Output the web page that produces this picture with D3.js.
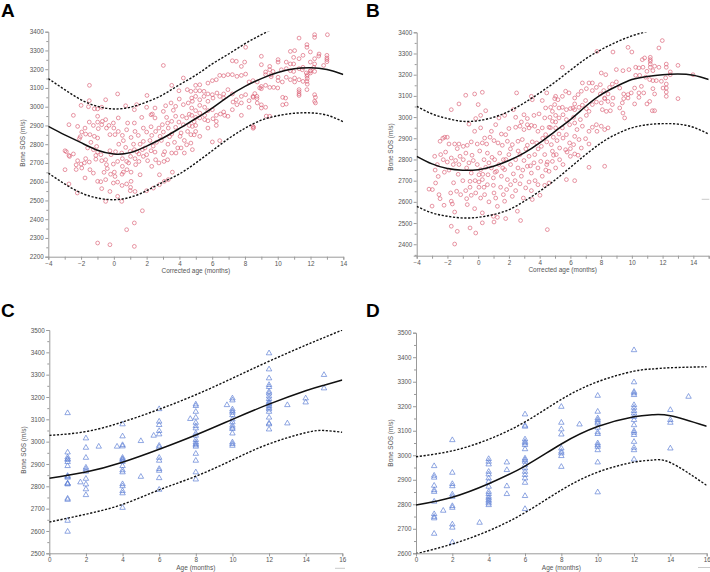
<!DOCTYPE html>
<html><head><meta charset="utf-8">
<script src="https://cdn.jsdelivr.net/npm/d3@7"></script>
<style>body{margin:0;background:#fff}svg{display:block}text{font-family:"Liberation Sans",Arial,sans-serif}</style>
</head><body><svg id="c" width="710" height="572"></svg>
<script>
// ---------- Panel A data (corrected age, bone SOS) ----------
const pointsA = [
[3.02,3220],[-1.49,3114],[4.24,3153],[3.53,3114],[3.97,3085],[4.48,3091],[4.7,3082],[4.75,3046],[3.99,3041],[0.23,3068],[-0.5,3037],[-1.5,3032],[2.02,3060],[-2.0,3007],[-1.55,3000],[-1.19,2989],[-0.99,2988],[-0.74,2997],[0.72,3005],[1.25,2984],[1.39,3011],[2.0,2997],[2.35,2961],[2.51,2993],[3.02,2975],[3.16,3005],[3.49,3020],[3.63,2981],[3.77,3002],[4.24,3011],[4.54,3020],[4.79,3029],[4.75,2993],
[-2.74,2904],[-2.47,2954],[-2.21,2895],[-1.96,2865],[-1.76,2886],[-1.72,2854],[-1.5,2918],[-1.46,2851],[-1.25,2900],[-1.19,2842],[-0.99,2949],[-0.99,2918],[-0.95,2883],[-0.99,2833],[-0.74,2904],[-0.7,2922],[-0.5,2931],[-0.45,2886],[-0.3,2900],[-0.24,2851],[-0.03,2913],[0.0,2886],[0.07,2851],[0.27,2940],[0.27,2868],[0.52,2847],[0.58,2819],[0.78,2877],[0.84,2913],[1.05,2836],[1.25,2913],[1.29,2868],[1.49,2847],[1.7,2943],[1.8,2886],[1.8,2815],[2.0,2865],[2.27,2957],[2.27,2893],[2.31,2847],[2.51,2940],[2.55,2868],[2.75,2886],[2.82,2842],[2.96,2904],[3.02,2865],[3.22,2943],[3.28,2913],[3.32,2886],[3.53,2922],[3.53,2854],[3.77,2949],[3.77,2890],[3.97,2918],[4.04,2842],[4.18,2949],[4.24,2904],[4.44,2940],[4.5,2868],[4.75,2954],[4.79,2895],[4.7,2851],
[-2.98,2765],[-2.74,2740],[-2.47,2748],[-2.98,2664],[-2.21,2712],[-2.0,2694],[-1.96,2673],[-1.72,2723],[-1.76,2620],[-1.5,2705],[-1.46,2664],[-1.25,2646],[-1.25,2771],[-1.05,2788],[-0.99,2758],[-0.79,2744],[-0.74,2712],[-0.5,2717],[-0.45,2691],[-0.5,2611],[-0.24,2765],[-0.17,2744],[-0.03,2694],[0.03,2651],[0.07,2628],[0.23,2708],[0.23,2598],[0.48,2753],[0.52,2723],[0.52,2682],[0.58,2651],[0.72,2783],[0.78,2708],[0.8,2664],[1.0,2762],[1.02,2735],[1.05,2651],[1.05,2602],[1.25,2771],[1.29,2723],[1.33,2691],[1.53,2748],[1.53,2708],[1.6,2637],[1.74,2771],[1.8,2735],[2.0,2744],[2.06,2712],[2.27,2765],[2.31,2682],[2.51,2758],[2.55,2717],[2.75,2700],[2.78,2637],[3.02,2744],[3.06,2708],[3.28,2717],[3.32,2611],[3.53,2753],[3.57,2651],[3.79,2753],[4.1,2780],[4.3,2753],[4.44,2797],[4.7,2806],[4.79,2771],
[-2.74,2588],[-2.23,2540],[-0.99,2602],[-0.74,2563],[-0.5,2495],[-0.24,2548],[-0.03,2593],[0.23,2522],[0.48,2495],[0.78,2588],[1.0,2552],[1.02,2570],[1.29,2548],[2.0,2552],[2.41,2566],[2.78,2584],[3.08,2602],
[1.74,2445],[1.25,2380],[0.78,2344],[-0.99,2273],[-0.24,2264],[1.25,2255],
[-2.9,2760],[-2.7,2735],[-2.3,2690],[-2.3,2665],[-2.1,2830],[-2.05,2840],[-1.8,2700],[-1.6,2780],[-1.4,2810],[-1.1,2740],[-1.1,2720],[-0.8,2600],[-0.6,2650],[-0.4,2670],[-0.2,2640],[0.1,2760],[0.3,2800],[0.5,2640],[0.5,2580],[0.9,2700],[1.2,2800],[1.4,2760],[1.6,2800],[1.9,2780],[2.2,2820],[2.4,2790],[2.6,2810],[2.9,2820],[3.1,2760],[3.3,2800],[3.4,2840],[3.7,2810],[3.9,2780],[4.1,2860],[4.3,2820],[4.6,2900],[4.9,2920],[4.6,2960],[4.9,2850],
[12.25,3384],[12.25,3370],[13.03,3384],[11.3,3366],[11.78,3331],[11.78,3317],[10.77,3295],[11.03,3299],[11.99,3292],[12.52,3281],[13.0,3274],[13.0,3251],[10.97,3263],[11.3,3256],[11.54,3274],[11.99,3238],[12.25,3256],[12.25,3228],[9.0,3269],[8.04,3317],[10.02,3251],[10.02,3238],[10.52,3238],[10.77,3228],[10.97,3228],
[7.23,3245],[7.47,3242],[7.98,3238],[7.78,3215],[9.0,3224],[9.51,3215],[9.26,3185],[9.26,3171],[9.51,3197],[9.71,3188],[10.22,3197],[10.52,3203],[10.77,3192],[10.97,3188],[11.3,3203],[11.54,3210],[11.5,3197],[11.74,3180],[11.78,3162],[11.99,3192],[12.25,3188],[11.78,3135],[11.54,3135],[11.3,3144],[11.03,3153],[11.03,3132],[10.77,3144],[10.52,3157],[10.28,3132],[10.02,3157],[10.02,3139],[9.75,3103],[9.51,3103],[9.26,3114],[9.0,3108],[9.0,3096],[8.75,3132],[8.49,3139],[8.25,3132],[8.04,3174],[7.78,3167],[7.51,3162],[7.23,3171],[6.96,3171],[6.7,3165],[6.46,3167],[6.25,3144],[6.01,3139],[5.74,3126],[5.24,3117],[4.99,3114],
[4.99,3085],[5.24,3085],[5.5,3082],[5.74,3068],[6.01,3064],[6.05,3046],[6.29,3073],[6.46,3055],[6.7,3068],[6.7,3046],[6.96,3091],[7.23,3068],[7.27,3025],[7.47,3037],[7.51,3011],[7.78,3055],[7.78,3020],[8.04,3064],[8.25,3032],[8.49,3055],[8.73,3055],[8.73,3043],[8.75,3020],[8.25,2997],[9.0,2993],[9.26,2997],[9.51,2949],[10.48,3046],[10.52,3014],[12.25,3064],[12.25,3029],[11.3,3091],[11.3,3068],[11.78,3091],
[4.99,3055],[5.24,3037],[5.5,3055],[5.24,3007],[5.54,2997],[5.74,3029],[5.74,2979],[6.01,2984],[6.25,2954],[6.05,2936],[6.25,2922],[6.25,2900],[5.74,2925],[5.54,2954],[5.54,2931],[5.24,2966],[5.24,2940],[4.99,2979],[4.99,2943],[4.99,2900],[4.99,2868],[5.24,2842],[5.74,2886],[6.01,2812],[6.46,2819],[6.5,2961],[6.76,2954],[6.96,2949],[7.23,2984],[7.78,2954],[8.53,2890],[8.49,2895],[6.7,2972],
[11.3,3060],[11.3,3080],[12.3,3050],[12.3,3020],[10.3,3050],[10.3,3010],[12.5,3270],[12.0,3190],[12.0,3180],[11.8,3170],[11.8,3150],[11.8,3120],[13.0,3240],[13.0,3260],[12.8,3220],[12.2,3210],[9.3,2950],[9.0,3010],[8.5,2885],[8.5,3050],[8.6,3070],[8.9,3100],[9.6,3160],[9.6,3170],[10.0,3100]
];
const curveXA = [-4,-3,-2,-1,0,1,2,3,4,5,6,7,8,9,10,11,12,13,14];
const meanA  = [2895,2850,2808,2768,2748,2755,2790,2833,2884,2937,2993,3055,3108,3150,3182,3202,3208,3198,3172];
const upperA = [3150,3091,3037,3002,2988,2997,3025,3064,3117,3168,3228,3281,3336,3384,3425,3460,3490,3510,3520];
const lowerA = [2646,2588,2540,2513,2504,2517,2552,2598,2641,2700,2765,2830,2885,2928,2952,2965,2967,2955,2920];

// ---------- Panel B data ----------
const pointsB = [
[-0.23,3109],[0.27,3117],[-0.81,3103],[-1.25,3062],[-1.75,3035],[0.0,3059],[0.49,3030],[2.5,3114],[1.72,3008],[2.29,3035],[2.98,3011],[3.46,3098],[3.52,3082],[4.17,3078],[4.39,3043],[4.72,3046],[4.98,3087],[4.46,3114],[4.83,3027],[-0.6,2967],[-0.16,2993],[0.16,3008],[-0.23,2933],[0.16,2949],[1.51,2920],[1.79,2917],[2.0,2946],[2.44,2952],[2.72,2957],[2.98,2941],[3.2,2964],[3.31,2949],[3.46,2961],[3.68,2957],[3.89,2933],[4.17,2949],[4.39,2917],[4.61,2952],[4.89,2905],[4.83,2980],[4.67,2999],[4.33,2996],[3.96,3015],[3.63,3008],[3.2,2993],[2.81,2977],[2.44,2999],[1.35,2996],[1.14,2964],[0.86,2933],[0.77,2905],[0.42,2901],
[-2.48,2886],[-2.18,2905],[-2.01,2905],[-1.9,2873],[-1.53,2873],[-1.25,2873],[-0.97,2862],[-1.36,2851],[-0.71,2867],[-0.45,2883],[-0.06,2873],[0.27,2878],[0.55,2873],[1.03,2889],[1.29,2878],[1.57,2867],[1.9,2886],[2.22,2870],[2.59,2886],[2.87,2894],[3.2,2867],[3.52,2883],[3.81,2878],[4.11,2862],[4.46,2883],[4.76,2870],[4.83,2839],
[-2.83,2815],[-2.66,2776],[-2.44,2823],[-2.27,2799],[-2.12,2835],[-2.01,2788],[-1.75,2807],[-1.62,2776],[-1.47,2795],[-1.18,2815],[-1.25,2776],[-0.97,2799],[-0.75,2760],[-0.6,2784],[-0.45,2736],[-0.32,2795],[-0.06,2776],[0.05,2728],[0.16,2752],[0.27,2705],[0.38,2799],[0.49,2763],[0.64,2728],[0.7,2784],[0.86,2760],[0.99,2713],[1.07,2799],[1.2,2744],[1.35,2776],[1.51,2721],[1.64,2799],[1.72,2752],[1.9,2705],[2.0,2823],[2.11,2776],[2.29,2732],[2.44,2799],[2.59,2760],[2.72,2823],[2.81,2721],[2.98,2795],[3.2,2768],[3.31,2815],[3.46,2736],[3.63,2784],[3.68,2823],[3.89,2760],[4.07,2791],[4.17,2721],[4.33,2823],[4.46,2776],[4.61,2744],[4.83,2791],[4.5,2788],
[-2.98,2658],[-2.55,2634],[-2.77,2689],[-2.48,2615],[-2.22,2584],[-1.79,2642],[-1.75,2603],[-1.68,2590],[-1.4,2650],[-1.53,2552],[-1.14,2634],[-0.81,2653],[-0.75,2615],[-0.71,2587],[-0.53,2697],[-0.53,2669],[-0.45,2631],[-0.23,2568],[-0.16,2642],[0.05,2694],[0.05,2669],[0.16,2618],[0.27,2548],[0.38,2669],[0.42,2634],[0.6,2681],[0.7,2600],[0.99,2678],[1.03,2642],[1.14,2618],[1.25,2579],[1.46,2669],[1.64,2634],[1.72,2603],[1.85,2658],[2.11,2681],[2.22,2626],[2.44,2653],[2.55,2556],[2.72,2685],[2.94,2618],[3.09,2666],[3.31,2694],[3.46,2653],[3.52,2611],[3.89,2681],[4.02,2631],[4.33,2678],[4.61,2689],
[-1.75,2485],[-1.36,2461],[-0.53,2477],[-0.16,2453],[0.27,2501],[1.03,2505],[1.25,2527],[1.79,2521],[-1.53,2401],[4.5,2469],[2.76,2512],[0.99,2532],
[-3.2,2660],[-3.0,2580],[-2.8,2750],[-2.6,2720],[-2.3,2900],[-2.2,2740],[-1.9,2750],[-1.6,2690],[-1.3,2730],[-1.0,2700],[-0.8,2830],[-0.4,2820],[-0.2,2700],[0.1,2840],[0.3,2730],[0.6,2830],[0.9,2810],[1.1,2740],[1.4,2830],[1.6,2760],[1.8,2800],[2.1,2850],[2.4,2700],[2.6,2840],[2.9,2750],[3.1,2850],[3.4,2770],[3.7,2700],[3.9,2850],[4.2,2900],[4.4,2750],[4.7,2950],[4.9,2820],
[11.98,3361],[11.76,3326],[10.83,3279],[10.68,3271],[11.2,3282],[11.2,3271],[11.2,3263],[11.2,3250],[11.2,3235],[11.37,3219],[11.48,3240],[11.76,3235],[12.24,3250],[12.24,3235],[12.5,3213],[12.5,3200],[13.0,3244],[10.98,3216],[10.72,3235],[10.46,3232],[10.25,3235],[10.0,3307],[9.75,3329],[8.77,3307],[7.73,3310],[5.48,3235],[8.01,3208],[8.3,3200],[8.99,3224],[9.42,3219],[9.81,3224],[10.25,3197],[10.51,3197],[10.9,3188],[11.16,3177],[11.37,3172],[11.59,3172],[11.92,3169],[12.24,3156],[12.24,3137],[12.24,3118],[12.24,3098],[12.03,3137],[12.2,3185],[11.37,3134],[11.48,3109],[11.16,3074],[11.48,3030],[11.33,3030],[13.0,3087],[13.98,3200],[10.77,3114],[10.62,3145],[10.46,3093],[10.18,3062],[10.18,3137],[9.96,3114],[9.75,3090],[9.47,3109],[9.47,3087],[9.21,3137],[8.99,3166],[8.73,3156],[8.55,3140],[8.45,3109],[8.23,3090],[8.17,3125],[7.95,3153],[7.69,3140],[7.43,3161],[7.43,3125],[7.21,3161],[7.04,3134],[6.78,3161],[6.71,3122],[6.5,3106],[6.28,3090],[6.28,3062],[5.91,3114],[5.69,3122],[5.48,3098],[5.19,3082],[5.04,3098],[4.98,3059],[5.26,3043],[5.48,3046],[5.74,3035],[6.0,3040],[6.17,3043],[6.28,3035],[6.56,3046],[6.78,3056],[6.99,3078],[7.04,3040],[7.43,3059],[7.69,3071],[7.95,3109],[8.01,3067],[8.23,3087],[8.45,3074],[8.73,3059],[8.77,3090],[8.08,3035],[8.34,3027],[8.6,3030],[9.21,3043],[9.42,3019],[9.53,2996],[9.38,3067],[10.46,3114],[10.98,3062],[9.75,3106],
[5.04,3008],[5.26,2996],[5.52,3011],[5.74,2988],[5.95,2964],[6.21,2999],[6.28,2972],[6.43,2941],[6.65,2988],[6.78,2957],[7.04,3008],[7.21,3027],[7.21,2933],[7.43,2952],[7.69,2964],[7.73,2933],[8.01,2957],[8.23,2941],[8.45,2949],[5.04,2977],[5.04,2949],[5.26,2920],[5.48,2949],[5.52,2901],[5.74,2917],[5.95,2878],[6.28,2909],[6.21,2870],[6.56,2894],[6.71,2854],[6.99,2898],[7.21,2873],[7.21,2763],[6.5,2820],[5.78,2835],[5.3,2854],[5.13,2889],[5.08,2823],[5.3,2799],[5.04,2760],[5.52,2776],[5.69,2846],[6.0,2851],[6.0,2815],[6.28,2826],[6.28,2700],[8.23,2768],[5.74,2705]
];
const curveXB = [-4,-3,-2,-1,0,1,2,3,4,5,6,7,8,9,10,11,12,13,14,15];
const meanB  = [2815,2779,2757,2749,2752,2768,2795,2831,2878,2933,2988,3051,3106,3145,3177,3192,3200,3203,3197,3177];
const upperB = [3051,3015,2993,2980,2983,2999,3027,3067,3114,3165,3221,3275,3318,3354,3383,3404,3418,3428,3434,3436];
const lowerB = [2579,2548,2532,2524,2527,2540,2563,2603,2650,2703,2763,2823,2878,2920,2949,2964,2969,2967,2952,2920];

// ---------- Panel C data (age, bone SOS) ----------
const agesC = [1,1.7,2,2.7,3.7,4,5,5.7,6,7.7,8,9.7,10,12,13,14,15];
const sosC = [
 [3128,2952,2930,2922,2919,2909,2891,2847,2843,2839,2813,2812,2809,2745,2740,2646,2597],
 [2818],
 [3015,2973,2928,2884,2876,2866,2834,2809,2787,2761],
 [2978],
 [2978],
 [3078,3024,2985,2979,2928,2922,2918,2910,2891,2872,2863,2810,2801,2779,2769,2704],
 [3003,2843],
 [3027],
 [3146,3090,3075,3048,3033,2982,2975,2928,2915,2878,2870,2837,2785],
 [3102],
 [3167,3160,3134,3108,3085,3070,3060,3037,3027,3008,2997,2990,2984,2978,2946,2915,2863,2831],
 [3164],
 [3194,3185,3145,3137,3130,3119,3100,3087,3072,3063,3057,3037,2997,2990,2982],
 [3396,3324,3284,3254,3245,3224,3216,3203,3191,3179,3173,3167,3160,3152,3145,3134,3108,3082,3078,3055],
 [3164,3082],
 [3194,3176],
 [3299,3239]
];
const curveXC = [0,2,4,6,8,10,12,14,15,16];
const meanC  = [2836,2864,2908,2966,3030,3100,3168,3228,3253,3276];
const upperC = [3028,3045,3088,3145,3210,3284,3360,3432,3466,3500];
const lowerC = [2640,2675,2719,2784,2845,2918,2990,3040,3050,3042];

// ---------- Panel D data ----------
const agesD = [1,1.5,2,3.5,4,5,6,8,9,10,12,14,15];
const sosD = [
 [2956,2917,2909,2876,2858,2851,2811,2760,2749,2743,2680],
 [2774],
 [3062,2929,2883,2874,2840,2831,2793,2786,2718,2705,2645],
 [2725],
 [2985,2974,2963,2933,2922,2906,2892,2872,2851,2842,2831,2824,2817,2811,2804,2797],
 [2971,2940,2874,2842],
 [3167,3121,3117,3065,3055,3049,3042,3025,2987,2981,2974,2960,2947,2933,2920,2906,2888,2834,2781],
 [3198,3133,3106,3085,3028,3015,3008,2997,2953],
 [3126],
 [3243,3178,3151,3144,3137,3130,3113,3094,3087,3049,3042,3035,3021,2971,2849],
 [3429,3298,3259,3253,3246,3205,3194,3181,3171,3157,3144,3123,3099,3092,3083,3055,3031,3021,2983],
 [3185,3144,3133,3028],
 [3239]
];
const curveXD = [0,2,4,6,8,10,12,13,14,16];
const meanD  = [2797,2829,2884,2956,3046,3117,3157,3165,3161,3118];
const upperD = [2994,3018,3065,3136,3228,3300,3343,3352,3357,3361];
const lowerD = [2598,2638,2692,2766,2858,2931,2972,2980,2970,2877];

const yLabel = "Bone SOS (m/s)";

// ---------- drawing ----------
const svg = d3.select("#c");
const RED = "#dc6478", BLUE = "#5b7cd4", AXIS = "#9a9a9a", TXT = "#555";

function panel(o){
  const x = d3.scaleLinear().domain(o.xDom).range(o.xR);
  const y = d3.scaleLinear().domain(o.yDom).range(o.yR);
  const g = svg.append("g");
  const cid = "clip" + o.letter;
  svg.append("clipPath").attr("id", cid).append("rect")
    .attr("x", o.xR[0]).attr("y", o.yR[1])
    .attr("width", o.xR[1]-o.xR[0]).attr("height", o.yR[0]-o.yR[1]);

  // minor y ticks
  const yMinor = d3.range(o.yDom[0] - o.yDom[0]%50 + 50, o.yDom[1], 50).filter(v => v % 100 !== 0);
  g.append("g").attr("transform", `translate(${o.xR[0]},0)`)
    .call(d3.axisLeft(y).tickValues(yMinor).tickSize(2).tickFormat(""))
    .call(s => s.select(".domain").remove())
    .call(s => s.selectAll("line").attr("stroke", AXIS));
  // major y
  const yMajor = d3.range(Math.ceil(o.yDom[0]/100)*100, o.yDom[1]+1, 100);
  g.append("g").attr("transform", `translate(${o.xR[0]},0)`)
    .call(d3.axisLeft(y).tickValues(yMajor).tickSize(3).tickPadding(1.5).tickFormat(d3.format("d")))
    .call(s => s.select(".domain").attr("stroke", AXIS))
    .call(s => s.selectAll("line").attr("stroke", AXIS))
    .call(s => s.selectAll("text").attr("fill", TXT).attr("font-size", 6.3).attr("font-family", "Liberation Sans, Arial, sans-serif"));
  // x axis
  const xTicks = d3.range(o.xDom[0], o.xDom[1]+0.001, o.xStep);
  g.append("g").attr("transform", `translate(0,${o.yR[0]})`)
    .call(d3.axisBottom(x).tickValues(xTicks).tickSize(3).tickPadding(1.5)
      .tickFormat(d => (d % 2 === 0 ? d3.format("d")(d) : "")))
    .call(s => s.select(".domain").attr("stroke", AXIS))
    .call(s => s.selectAll("line").attr("stroke", AXIS))
    .call(s => s.selectAll("text").attr("fill", TXT).attr("font-size", 6.3).attr("font-family", "Liberation Sans, Arial, sans-serif"));

  // labels
  svg.append("text").attr("x", (o.xR[0]+o.xR[1])/2).attr("y", o.yR[0] + 16.5)
    .attr("text-anchor", "middle").attr("font-size", 6.5).attr("fill", TXT).text(o.xLabel);
  svg.append("text").attr("transform", `translate(${o.yLabX},${o.yLabY}) rotate(-90)`)
    .attr("text-anchor", "middle").attr("font-size", 6.5).attr("fill", TXT).text(yLabel);
  svg.append("text").attr("x", o.lx).attr("y", o.ly).attr("font-size", 19).attr("font-weight", "bold")
    .attr("fill", "#000").text(o.letter);

  // points
  const pg = svg.append("g").attr("clip-path", `url(#${cid})`);
  if (o.marker === "circle") {
    pg.selectAll("circle").data(o.pts).join("circle")
      .attr("cx", d => x(d[0])).attr("cy", d => y(d[1])).attr("r", 1.9)
      .attr("fill", "none").attr("stroke", RED).attr("stroke-width", 0.75).attr("stroke-opacity", 0.9);
  } else {
    const sym = d3.symbol(d3.symbolTriangle).size(13);
    pg.selectAll("path").data(o.pts).join("path")
      .attr("d", sym).attr("transform", d => `translate(${x(d[0])},${y(d[1])})`)
      .attr("fill", "none").attr("stroke", BLUE).attr("stroke-width", 0.75).attr("stroke-opacity", 0.9);
  }

  // curves
  const lg = svg.append("g").attr("clip-path", `url(#${cid})`);
  const line = d3.line().x(d => x(d[0])).y(d => y(d[1])).curve(d3.curveNatural);
  const zip = arr => o.cx.map((v,i) => [v, arr[i]]);
  lg.append("path").attr("d", line(zip(o.upper))).attr("fill","none").attr("stroke","#111")
    .attr("stroke-width",1.4).attr("stroke-dasharray","2.2,1.6");
  lg.append("path").attr("d", line(zip(o.lower))).attr("fill","none").attr("stroke","#111")
    .attr("stroke-width",1.4).attr("stroke-dasharray","2.2,1.6");
  lg.append("path").attr("d", line(zip(o.mean))).attr("fill","none").attr("stroke","#111")
    .attr("stroke-width",1.5);
}

function flatten(ages, sos){ const r=[]; ages.forEach((a,i)=>sos[i].forEach(v=>r.push([a,v]))); return r; }

panel({letter:"A", lx:1, ly:17, xDom:[-4,14], xR:[48.3,343.3], yDom:[2200,3400], yR:[256.7,31.7], xStep:1,
  xLabel:"Corrected age (months)", yLabX:25, yLabY:143, marker:"circle", pts:pointsA,
  cx:curveXA, mean:meanA, upper:upperA, lower:lowerA});
panel({letter:"B", lx:366, ly:17, xDom:[-4,15], xR:[416.7,708.7], yDom:[2346,3400], yR:[255.7,32.3], xStep:1,
  xLabel:"Corrected age (months)", yLabX:393, yLabY:147, marker:"circle", pts:pointsB,
  cx:curveXB, mean:meanB, upper:upperB, lower:lowerB});
panel({letter:"C", lx:1, ly:316.5, xDom:[0,16], xR:[49.3,342.3], yDom:[2500,3500], yR:[553.3,330], xStep:2,
  xLabel:"Age (months)", yLabX:25.5, yLabY:450, marker:"tri", pts:flatten(agesC, sosC),
  cx:curveXC, mean:meanC, upper:upperC, lower:lowerC});
panel({letter:"D", lx:366, ly:316.5, xDom:[0,16], xR:[416,706.7], yDom:[2600,3500], yR:[553.3,332.7], xStep:2,
  xLabel:"Age (months)", yLabX:392.5, yLabY:443, marker:"tri", pts:flatten(agesD, sosD),
  cx:curveXD, mean:meanD, upper:upperD, lower:lowerD});

// small grey marks present in the original figure
[[701.7,709.3,199.3],[335,345,568.3],[698,710,567.5]].forEach(s =>
  svg.append("line").attr("x1",s[0]).attr("x2",s[1]).attr("y1",s[2]).attr("y2",s[2])
    .attr("stroke","#bbb").attr("stroke-width",0.8));
</script></body></html>
